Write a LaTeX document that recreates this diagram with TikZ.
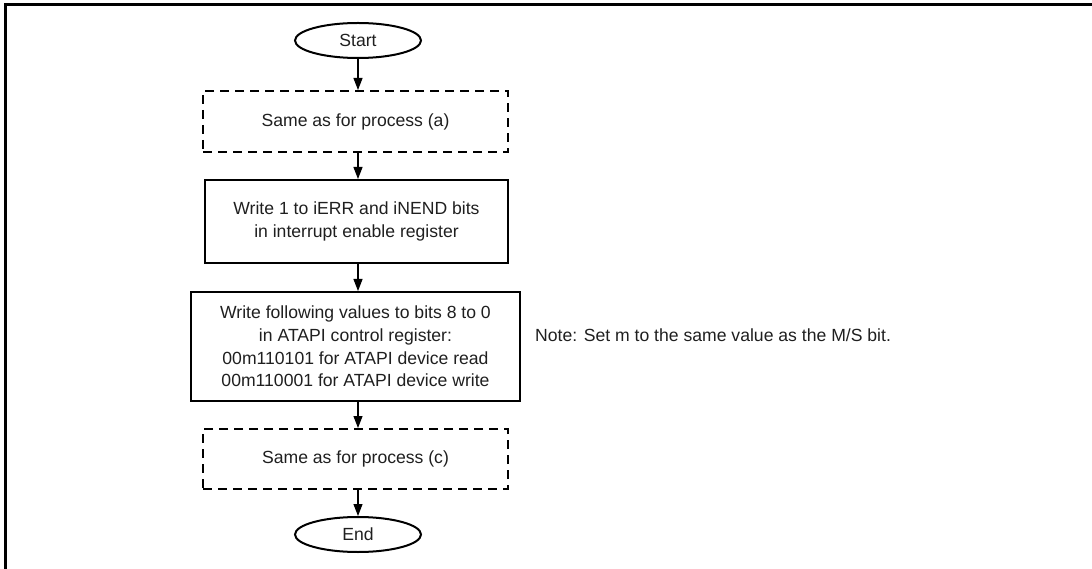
\documentclass[tikz,border=0pt]{standalone}
\usepackage{fontspec}
\setmainfont{Liberation Sans}
\usetikzlibrary{arrows.meta,shapes.geometric}
\begin{document}
\begin{tikzpicture}[x=1pt,y=-1pt,
  every node/.style={font=\fontsize{17.6}{22.8}\selectfont, text=black!88},
  term/.style={draw, ellipse, line width=2pt, minimum width=126pt, minimum height=35pt, inner sep=0pt},
  procbox/.style={draw, line width=2pt, align=center, inner sep=0pt},
  dashbox/.style={draw, line width=2pt, dash pattern=on 9pt off 6pt, align=center, inner sep=0pt},
  flow/.style={-{Triangle[length=12pt,width=9pt]}, line width=1.1pt}]
\useasboundingbox (0,0) rectangle (1092,569);
\draw[line width=3pt] (5.5,600) -- (5.5,5) -- (1100,5);
\node[term] (start) at (358,40.5) {Start};
\node[dashbox, minimum width=305pt, minimum height=61pt] (pa) at (355.5,121.5) {Same as for process (a)};
\node[procbox, minimum width=303pt, minimum height=83pt] (wr1) at (356.5,221.5) {Write 1 to iERR and iNEND bits\\in interrupt enable register};
\node[procbox, minimum width=329pt, minimum height=109pt] (wr2) at (355.5,346.5) {Write following values to bits 8 to 0\\in ATAPI control register:\\00m110101 for ATAPI device read\\00m110001 for ATAPI device write};
\node[dashbox, minimum width=305pt, minimum height=60pt] (pc) at (355.5,459) {Same as for process (c)};
\node[term] (end) at (358,534.5) {End};
\node[anchor=west, inner sep=0pt] (note) at (535,335) {Note: Set m to the same value as the M/S bit.};
\draw[flow] (start.south) -- (start.south |- pa.north);
\draw[flow] (start.south |- pa.south) -- (start.south |- wr1.north);
\draw[flow] (start.south |- wr1.south) -- (start.south |- wr2.north);
\draw[flow] (start.south |- wr2.south) -- (start.south |- pc.north);
\draw[flow] (start.south |- pc.south) -- (end.north);
\end{tikzpicture}
\end{document}
